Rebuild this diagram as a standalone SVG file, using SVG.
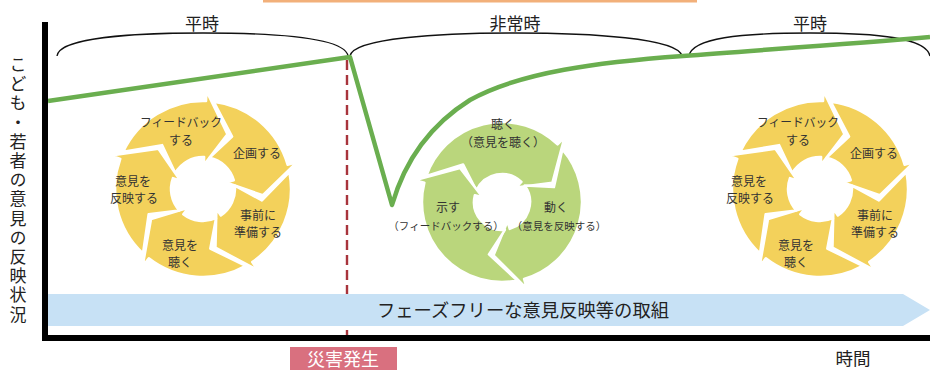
<svg xmlns="http://www.w3.org/2000/svg" width="930" height="370" viewBox="0 0 930 370">
<style>
text{font-family:"Noto Sans CJK JP","Noto Sans",sans-serif;fill:#222}
.lbl{font-size:17px;text-anchor:middle}
.c{font-size:12px;text-anchor:middle;fill:#333}
.g{font-size:12px;text-anchor:middle;fill:#333}
.p{font-size:10.5px}
.brace{fill:none;stroke:#111;stroke-width:1.3}
.seg5{fill:#F3D15B;stroke:#fff;stroke-width:2.5;stroke-linejoin:round}
.seg3{fill:#BAD67C;stroke:#fff;stroke-width:2.5;stroke-linejoin:round}
</style>
<defs>
<path id="s5" d="M -81.0 -34.38 A 88 88 0 0 1 0 -88 L 0 -98 L 22.48 -55.63 L 0 -24 L 0 -32 A 32 32 0 0 0 -28.25 -15.02 L -42.43 -42.43 Z"/>
<path id="s3" d="M -72.50 33.81 A 80 80 0 0 1 0 -80 L 0 -90 L 22.82 -48.94 L 0 -20 L 0 -28 A 28 28 0 0 0 -26.31 9.58 L -54 0 Z"/>
</defs>
<rect id="topbar" x="263" y="0" width="434" height="2.5" fill="#F2B07A"/>
<g id="braces">
<path class="brace" d="M57,56 C59,38 130,33 203,33 C276,33 345,38 348,56"/>
<path class="brace" d="M350,56 C353,38 440,33 515,33 C590,33 678,38 682,56"/>
<path class="brace" d="M689,56 C692,38 740,33 810,33 C880,33 926,38 930,56"/>
</g>
<g id="labels-top">
<text class="lbl" x="202" y="30">平時</text>
<text class="lbl" x="515" y="30">非常時</text>
<text class="lbl" x="810" y="30">平時</text>
</g>
<g id="connectors">
<line x1="347" y1="60" x2="347" y2="335" stroke="#A8343C" stroke-width="2.4" stroke-dasharray="10,5"/>
</g>
<g id="band">
<polygon points="47,294 903,294 930,310 903,326 47,326" fill="#C7E1F5"/>
<text x="523" y="316.5" font-size="18" text-anchor="middle" textLength="292" lengthAdjust="spacingAndGlyphs">フェーズフリーな意見反映等の取組</text>
</g>
<g id="cycle-left">
<use href="#s5" class="seg5" transform="translate(203,189) rotate(2)"/>
<use href="#s5" class="seg5" transform="translate(203,189) rotate(74)"/>
<use href="#s5" class="seg5" transform="translate(203,189) rotate(146)"/>
<use href="#s5" class="seg5" transform="translate(203,189) rotate(218)"/>
<use href="#s5" class="seg5" transform="translate(203,189) rotate(290)"/>
<text class="c" x="181" y="127"><tspan x="181" textLength="82" lengthAdjust="spacingAndGlyphs">フィードバック</tspan><tspan x="181" dy="17.5">する</tspan></text>
<text class="c" x="257" y="158">企画する</text>
<text class="c" x="258" y="219.5">事前に<tspan x="258" dy="17.5">準備する</tspan></text>
<text class="c" x="180" y="249.5">意見を<tspan x="180" dy="17.5">聴く</tspan></text>
<text class="c" x="133" y="185.5">意見を<tspan x="134" dy="17.5">反映する</tspan></text>
</g>
<g id="cycle-mid">
<use href="#s3" class="seg3" transform="translate(502,202) rotate(44)"/>
<use href="#s3" class="seg3" transform="translate(502,202) rotate(164)"/>
<use href="#s3" class="seg3" transform="translate(502,202) rotate(284)"/>
<text class="g" x="503" y="129">聴く<tspan x="503" dy="17.5">（意見を聴く）</tspan></text>
<text class="g" x="556" y="212">動く<tspan class="p" x="559" dy="17.5">（意見を反映する）</tspan></text>
<text class="g" x="448" y="212">示す<tspan class="p" x="446" dy="17.5">（フィードバックする）</tspan></text>
</g>
<g id="cycle-right">
<use href="#s5" class="seg5" transform="translate(820,189) rotate(2)"/>
<use href="#s5" class="seg5" transform="translate(820,189) rotate(74)"/>
<use href="#s5" class="seg5" transform="translate(820,189) rotate(146)"/>
<use href="#s5" class="seg5" transform="translate(820,189) rotate(218)"/>
<use href="#s5" class="seg5" transform="translate(820,189) rotate(290)"/>
<text class="c" x="798" y="127"><tspan x="798" textLength="82" lengthAdjust="spacingAndGlyphs">フィードバック</tspan><tspan x="798" dy="17.5">する</tspan></text>
<text class="c" x="874" y="158">企画する</text>
<text class="c" x="875" y="219.5">事前に<tspan x="875" dy="17.5">準備する</tspan></text>
<text class="c" x="796" y="249.5">意見を<tspan x="796" dy="17.5">聴く</tspan></text>
<text class="c" x="749" y="185.5">意見を<tspan x="750" dy="17.5">反映する</tspan></text>
</g>
<g id="trend">
<path d="M48,101 L350,57 L392,205 C405,160 430,125 470,100 C520,72 600,62 683,56 C760,50 850,44 930,37" fill="none" stroke="#6AAE4F" stroke-width="4.5" stroke-linejoin="round"/>
</g>
<g id="axes">
<rect x="42" y="22" width="6" height="319" fill="#000"/>
<rect x="42" y="335" width="888" height="6" fill="#000"/>
</g>
<text x="18" y="56" font-size="17" letter-spacing="2.2" style="writing-mode:vertical-rl">こども・若者の意見の反映状況</text>
<g id="disaster">
<rect x="290" y="347" width="107" height="30" fill="#D9707F"/>
<text x="343" y="366" font-size="18" text-anchor="middle" style="fill:#fff">災害発生</text>
</g>
<text x="853" y="365" font-size="17.5" text-anchor="middle">時間</text>
</svg>
